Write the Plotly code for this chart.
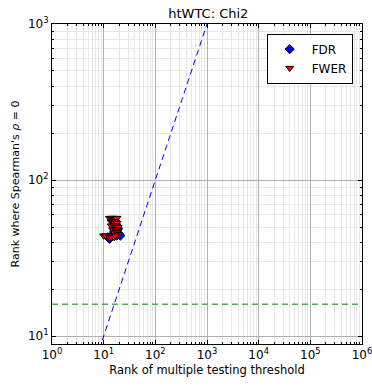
import numpy as np
import plotly.graph_objects as go

# Ranks for the two multiple-testing corrections
fdr_x = [20, 18, 15, 13, 16, 19, 12, 21]
fdr_y = [45, 44, 45, 42, 47, 49, 43, 44]

fwer_x = [13, 14, 15, 16, 17, 18, 14, 15, 16, 17, 18, 14, 16, 17, 18, 19,
          15, 17, 18, 19, 16, 18, 19, 10, 11, 13, 14, 16, 17]
fwer_y = [57, 57, 57, 57, 56, 57, 54, 54, 53, 54, 53, 51, 51, 50, 51, 50,
          48, 48, 48, 47, 46, 46, 45, 44, 44, 43, 43, 43, 44]

identity = [1, 1e6]
baseline_rank = 16

x_ticks = [1, 10, 100, 1000, 10000, 100000, 1000000]
x_tick_text = ["10<sup>0</sup>", "10<sup>1</sup>", "10<sup>2</sup>", "10<sup>3</sup>",
               "10<sup>4</sup>", "10<sup>5</sup>", "10<sup>6</sup>"]
y_ticks = [10, 100, 1000]
y_tick_text = ["10<sup>1</sup>", "10<sup>2</sup>", "10<sup>3</sup>"]

font = "DejaVu Sans"

fig = go.Figure()

fig.add_trace(go.Scatter(x=identity, y=identity, mode="lines",
                         line=dict(color="#0000ff", width=1, dash="6px,4px"),
                         showlegend=False, hoverinfo="skip"))
fig.add_trace(go.Scatter(x=[1, 1e6], y=[baseline_rank, baseline_rank], mode="lines",
                         line=dict(color="#4caf50", width=1.3, dash="6px,4px"),
                         showlegend=False, hoverinfo="skip"))

fig.add_trace(go.Scatter(x=fdr_x, y=fdr_y, mode="markers", name="FDR",
                         marker=dict(symbol="diamond", size=7, color="#0000ff",
                                     line=dict(color="black", width=1))))
fig.add_trace(go.Scatter(x=fwer_x, y=fwer_y, mode="markers", name="FWER",
                         marker=dict(symbol="triangle-down", size=7, color="#ff0000",
                                     line=dict(color="black", width=1))))

axis_common = dict(
    type="log", automargin=False, ticklabeloverflow="allow",
    showline=True, linecolor="black", linewidth=1, mirror="allticks",
    ticks="inside", ticklen=4, tickcolor="black",
    showgrid=True, gridcolor="#b0b0b0", gridwidth=1,
    minor=dict(dtick="D1", ticks="inside", ticklen=2, tickcolor="black",
               showgrid=True, gridcolor="#e8e8e8", gridwidth=1),
    zeroline=False, tickfont=dict(family=font, size=12, color="black"),
)

fig.update_xaxes(range=[0, 6], tickvals=x_ticks, ticktext=x_tick_text,
                 title=dict(text="Rank of multiple testing threshold",
                            font=dict(family=font, size=11.5, color="black"), standoff=4),
                 **axis_common)
fig.update_yaxes(range=[np.log10(8.9), 3], tickvals=y_ticks, ticktext=y_tick_text,
                 title=dict(text="Rank where Spearman's <i>ρ</i> = 0",
                            font=dict(family=font, size=11, color="black"), standoff=6),
                 **axis_common)

fig.update_layout(
    width=372, height=387,
    margin=dict(l=52, r=10, t=24, b=43),
    paper_bgcolor="white", plot_bgcolor="white",
    title=dict(text="htWTC: Chi2", x=0.56, xanchor="center", y=0.978, yanchor="top",
               font=dict(family=font, size=13, color="black")),
    legend=dict(x=0.97, y=0.97, xanchor="right", yanchor="top",
                bgcolor="white", bordercolor="black", borderwidth=1,
                font=dict(family=font, size=12, color="black"),
                itemwidth=34),
    showlegend=True,
)

fig.write_html("out.html")
